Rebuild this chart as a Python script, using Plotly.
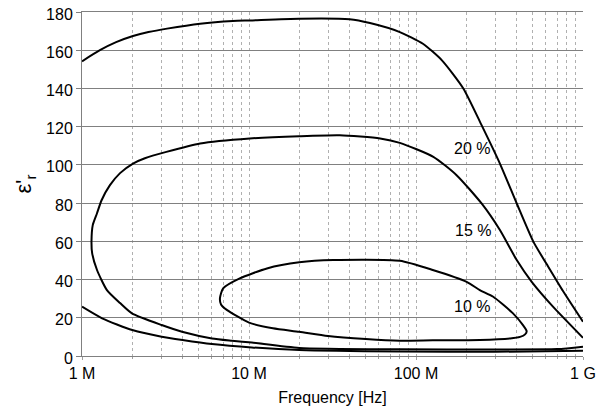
import math
import plotly.graph_objects as go

# ---- data (frequency in MHz, relative permittivity) ----
c20_top_f = [1.0, 1.28, 1.6, 2.02, 2.5, 3.23, 5.1, 8.0, 10.2, 20, 40, 53, 80, 110, 143, 192, 247, 318, 401, 505, 607, 759, 1000]
c20_top_e = [154.2, 160, 164.2, 167.4, 169.5, 171.3, 173.9, 175.3, 175.6, 176.5, 176.2, 174.2, 169.5, 163.4, 154.7, 140, 120.8, 100.7, 79.8, 59.7, 48.0, 34.0, 17.9]

c20_bot_f = [1.0, 1.32, 2.0, 3.0, 4.0, 6.0, 10.4, 20, 80, 300, 1000]
c20_bot_e = [25.8, 19.7, 13.6, 10.1, 8.4, 6.3, 4.5, 3.1, 2.3, 2.2, 2.8]

c15_f = [1000, 661, 493, 401, 318, 247, 175, 127, 80, 61, 35, 20, 10.1, 5.1, 3.2, 2.38, 2.02, 1.69, 1.47, 1.31, 1.23, 1.16, 1.14, 1.15,
         1.23, 1.41, 1.69, 1.99, 3.0, 3.97, 6.0, 7.9, 10.4, 20, 80, 300, 700, 1000]
c15_e = [9.5, 25.8, 38.8, 50.2, 65.9, 79.8, 94.6, 104.2, 111.5, 113.8, 115.5, 115.0, 113.8, 111.2, 106.8, 103.5, 100.7, 95.7, 89.4, 81.5, 74.7, 68.5, 60, 53.8,
         45, 34.5, 27.7, 22.3, 16.2, 12.7, 9.2, 8.0, 7.0, 4.2, 3.5, 3.4, 3.6, 4.9]

c10_f = [6.7, 7.0, 8.8, 12.8, 20, 32, 80, 126, 201, 241, 290, 381, 437, 460, 450, 420, 366, 241, 126, 80, 50, 29.7, 20, 13.9, 10.0, 7.4, 6.8, 6.7]
c10_e = [30.2, 35.4, 40.6, 45.8, 49.0, 50.2, 49.8, 45, 38.8, 34.5, 31, 22.3, 16.2, 13.0, 11.3, 10.0, 9.2, 8.4, 8.2, 8.0, 8.9, 10.5, 12.7, 14.5, 17.5, 24, 27, 30.2]

labels = ["20 %", "15 %", "10 %"]
label_f = [216, 219, 216]
label_e = [108.6, 65.5, 25.8]

x_tickvals = [1e6, 1e7, 1e8, 1e9]
x_ticktext = ["1 M", "10 M", "100 M", "1 G"]

MHZ = 1e6
fig = go.Figure()
line = dict(color="black", width=2, shape="spline", smoothing=0.6)
for fs, es in [(c20_top_f, c20_top_e), (c20_bot_f, c20_bot_e), (c15_f, c15_e), (c10_f, c10_e)]:
    fig.add_trace(go.Scatter(x=[f * MHZ for f in fs], y=es, mode="lines", line=line,
                             showlegend=False, hoverinfo="skip"))

for t, f, e in zip(labels, label_f, label_e):
    fig.add_annotation(x=math.log10(f * MHZ), y=e, text=t, showarrow=False,
                       font=dict(size=16, color="black"), xref="x", yref="y")

minor_vals = [m * 10 ** d for d in range(6, 9) for m in range(2, 10)]

font_family = "Liberation Sans, Arial, sans-serif"
fig.update_layout(
    width=601, height=412,
    margin=dict(l=82, r=18, t=12, b=56),
    paper_bgcolor="white", plot_bgcolor="white",
    font=dict(family=font_family, size=16, color="black"),
    xaxis=dict(
        type="log", range=[6, 9],
        tickmode="array", tickvals=x_tickvals, ticktext=x_ticktext,
        showgrid=True, gridcolor="#b0b0b0", griddash="dot", gridwidth=1,
        minor=dict(tickmode="array", tickvals=minor_vals, showgrid=True,
                   gridcolor="#b0b0b0", griddash="dot", gridwidth=1,
                   ticks="outside", ticklen=2, tickcolor="#a0a0a0"),
        ticks="outside", ticklen=3, tickcolor="#a0a0a0",
        showline=True, mirror=True, linecolor="#808080", linewidth=1,
        zeroline=False,
        title=dict(text="Frequency [Hz]", font=dict(size=16), standoff=10),
        automargin=False,
    ),
    yaxis=dict(
        range=[0, 180], dtick=20, tick0=0,
        showgrid=True, gridcolor="#808080", gridwidth=1,
        ticks="outside", ticklen=5, tickcolor="#808080",
        ticklabelshift=2,
        showline=True, linecolor="#808080", linewidth=1,
        zeroline=False,
        title=dict(text="ε'<sub>r</sub>", font=dict(size=22), standoff=8),
        automargin=False,
    ),
)

fig.write_html("out.html", config={"displayModeBar": False},
               post_script="document.body.style.margin='0';")
